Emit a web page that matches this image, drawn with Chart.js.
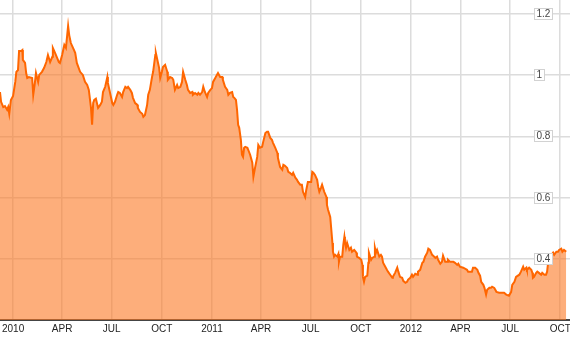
<!DOCTYPE html>
<html>
<head>
<meta charset="utf-8">
<script src="https://cdn.jsdelivr.net/npm/chart.js@4.4.0/dist/chart.umd.min.js"></script>
<style>
  html, body { margin: 0; padding: 0; background: #fff; }
  #wrap { width: 570px; height: 338px; }
</style>
</head>
<body>
<div id="wrap"><canvas id="cours"></canvas></div>
<script>
// days counted from 1 Jan 2010
const days = [
  -24, -22, -18, -15, -11, -9, -7, -4, 0, 4,
  6, 9, 11, 15, 17, 18, 22, 24, 26, 29,
  35, 37, 40, 42, 46, 48, 53, 57, 61, 64,
  68, 72, 73, 77, 81, 84, 86, 90, 94, 97,
  101, 103, 106, 110, 114, 117, 123, 128, 132, 136,
  139, 143, 145, 147, 149, 152, 156, 160, 163, 165,
  169, 173, 174, 178, 182, 184, 187, 191, 193, 196,
  200, 202, 206, 209, 211, 215, 218, 220, 224, 228,
  229, 233, 237, 239, 242, 246, 248, 251, 255, 257,
  261, 262, 266, 268, 270, 273, 275, 279, 283, 284,
  288, 292, 294, 297, 301, 303, 307, 310, 312, 316,
  319, 321, 325, 329, 330, 334, 338, 340, 343, 347,
  349, 352, 356, 358, 362, 365, 367, 371, 374, 376,
  380, 384, 385, 389, 393, 395, 398, 402, 404, 406,
  409, 411, 413, 415, 418, 420, 422, 424, 426, 430,
  431, 435, 439, 441, 444, 448, 450, 453, 457, 459,
  463, 466, 468, 472, 475, 477, 481, 485, 486, 490,
  494, 496, 499, 503, 505, 508, 512, 514, 518, 521,
  523, 527, 530, 532, 536, 538, 541, 543, 547, 549,
  551, 554, 558, 560, 562, 565, 567, 571, 575, 576,
  578, 582, 584, 586, 587, 589, 591, 595, 597, 598,
  600, 604, 606, 608, 609, 611, 613, 617, 620, 622,
  626, 630, 631, 635, 639, 641, 642, 644, 646, 650,
  652, 653, 657, 659, 663, 664, 666, 668, 672, 675,
  677, 679, 683, 686, 688, 692, 696, 697, 701, 705,
  707, 710, 714, 716, 720, 723, 725, 729, 732, 734,
  738, 742, 743, 747, 751, 753, 756, 760, 762, 765,
  769, 771, 775, 778, 780, 784, 787, 789, 793, 797,
  798, 802, 808, 811, 815, 817, 820, 826, 830, 833,
  835, 842, 844, 848, 852, 854, 857, 859, 863, 865,
  868, 870, 874, 877, 879, 883, 887, 892, 901, 905,
  910, 914, 916, 920, 923, 929, 932, 936, 938, 942,
  943, 947, 951, 953, 954, 956, 960, 962, 965, 969,
  971, 975, 978, 980, 982, 984, 988, 991, 993, 997,
  1000, 1002, 1006, 1008, 1011, 1015
];
const prices = [
  0.945, 0.913, 0.896, 0.899, 0.887, 0.896, 0.874, 0.919, 0.932, 0.978,
  1.011, 1.017, 1.079, 1.079, 1.082, 1.050, 1.040, 1.007, 0.991, 0.994,
  0.991, 0.936, 0.975, 1.007, 0.978, 1.001, 1.011, 1.024, 1.043, 1.066,
  1.043, 1.060, 1.089, 1.073, 1.056, 1.043, 1.040, 1.066, 1.099, 1.089,
  1.161, 1.131, 1.105, 1.089, 1.073, 1.040, 1.011, 1.001, 0.978, 0.968,
  0.952, 0.893, 0.838, 0.909, 0.919, 0.923, 0.893, 0.903, 0.913, 0.945,
  0.962, 0.994, 0.975, 0.942, 0.909, 0.903, 0.913, 0.936, 0.945, 0.942,
  0.929, 0.945, 0.962, 0.958, 0.962, 0.952, 0.942, 0.926, 0.909, 0.903,
  0.893, 0.880, 0.874, 0.864, 0.870, 0.903, 0.936, 0.952, 0.994, 1.011,
  1.066, 1.073, 1.040, 1.024, 0.991, 1.011, 1.027, 1.034, 1.011, 0.985,
  0.994, 0.991, 0.985, 0.952, 0.968, 0.958, 0.962, 0.978, 1.011, 0.985,
  0.968, 0.952, 0.942, 0.945, 0.936, 0.942, 0.936, 0.942, 0.936, 0.945,
  0.962, 0.945, 0.929, 0.942, 0.952, 0.958, 0.978, 0.991, 1.001, 1.007,
  0.994, 0.994, 0.985, 0.962, 0.952, 0.936, 0.942, 0.945, 0.929, 0.926,
  0.919, 0.887, 0.838, 0.828, 0.789, 0.740, 0.733, 0.763, 0.766, 0.763,
  0.763, 0.740, 0.714, 0.668, 0.697, 0.733, 0.772, 0.763, 0.766, 0.782,
  0.811, 0.815, 0.815, 0.795, 0.789, 0.779, 0.763, 0.746, 0.730, 0.700,
  0.691, 0.707, 0.704, 0.697, 0.684, 0.681, 0.674, 0.681, 0.665, 0.658,
  0.651, 0.642, 0.642, 0.619, 0.602, 0.625, 0.651, 0.651, 0.651, 0.684,
  0.681, 0.674, 0.658, 0.635, 0.619, 0.632, 0.642, 0.619, 0.602, 0.576,
  0.560, 0.537, 0.495, 0.452, 0.423, 0.407, 0.413, 0.407, 0.416, 0.390,
  0.407, 0.407, 0.446, 0.472, 0.456, 0.436, 0.452, 0.429, 0.436, 0.423,
  0.429, 0.420, 0.407, 0.403, 0.397, 0.380, 0.341, 0.325, 0.341, 0.345,
  0.387, 0.420, 0.397, 0.403, 0.407, 0.436, 0.420, 0.429, 0.407, 0.413,
  0.407, 0.387, 0.374, 0.364, 0.358, 0.348, 0.338, 0.341, 0.354, 0.371,
  0.358, 0.341, 0.338, 0.328, 0.322, 0.325, 0.332, 0.338, 0.348, 0.341,
  0.351, 0.348, 0.358, 0.364, 0.387, 0.390, 0.407, 0.420, 0.433, 0.429,
  0.413, 0.410, 0.403, 0.407, 0.397, 0.384, 0.390, 0.410, 0.390, 0.390,
  0.397, 0.390, 0.390, 0.387, 0.380, 0.384, 0.374, 0.371, 0.367, 0.364,
  0.358, 0.358, 0.371, 0.371, 0.364, 0.354, 0.345, 0.325, 0.315, 0.305,
  0.283, 0.299, 0.305, 0.305, 0.309, 0.305, 0.292, 0.289, 0.289, 0.283,
  0.279, 0.292, 0.315, 0.325, 0.341, 0.348, 0.358, 0.374, 0.364, 0.371,
  0.364, 0.371, 0.364, 0.354, 0.338, 0.341, 0.354, 0.358, 0.354, 0.348,
  0.354, 0.348, 0.348, 0.358, 0.390, 0.403, 0.413, 0.420, 0.413, 0.423,
  0.423, 0.429, 0.433, 0.423, 0.429, 0.423
];

// quarter starts and their labels
const tickDays = [0, 90, 181, 273, 365, 455, 546, 638, 730, 821, 912, 1004];
const tickLabels = ['2010', 'APR', 'JUL', 'OCT', '2011', 'APR', 'JUL', 'OCT', '2012', 'APR', 'JUL', 'OCT'];
const yTicks = [0.4, 0.6, 0.8, 1, 1.2];

Chart.defaults.font.family = '"Liberation Sans", Arial, sans-serif';

// y labels sit inside the plot, in small white boxes
const boxedLabels = {
  id: 'boxedLabels',
  afterDatasetsDraw(chart) {
    const ctx = chart.ctx;
    const y = chart.scales.y;
    const left = chart.chartArea.right - 36;
    ctx.save();
    ctx.font = '10px "Liberation Sans", Arial, sans-serif';
    ctx.textBaseline = 'middle';
    yTicks.forEach(v => {
      const py = Math.round(y.getPixelForValue(v));
      const txt = String(v);
      const w = Math.ceil(ctx.measureText(txt).width) + 5;
      ctx.fillStyle = '#fff';
      ctx.fillRect(left, py - 6, w, 12);
      ctx.strokeStyle = '#d2d2d2';
      ctx.lineWidth = 1;
      ctx.strokeRect(left + 0.5, py - 5.5, w - 1, 11);
      ctx.fillStyle = '#444';
      ctx.fillText(txt, left + 2.5, py + 0.5);
    });
    ctx.restore();
  }
};

const ctx = document.getElementById('cours').getContext('2d');
const chart = new Chart(ctx, {
  type: 'line',
  data: {
    datasets: [{
      data: days.map((d, i) => ({ x: d, y: prices[i] })),
      borderColor: '#ff6600',
      borderWidth: 2,
      backgroundColor: 'rgba(251, 120, 35, 0.6)',
      fill: 'start',
      pointRadius: 0,
      tension: 0
    }]
  },
  options: {
    responsive: true,
    maintainAspectRatio: false,
    animation: false,
    layout: { padding: 0 },
    plugins: {
      legend: { display: false },
      tooltip: { enabled: false }
    },
    scales: {
      x: {
        type: 'linear',
        min: -24,
        max: 1022,
        afterBuildTicks: axis => { axis.ticks = tickDays.map(v => ({ value: v })); },
        afterFit: axis => { axis.paddingLeft = 0; axis.paddingRight = 0; },
        ticks: {
          autoSkip: false,
          maxRotation: 0,
          padding: 3,
          color: '#222',
          font: { size: 10 },
          callback: (v, i) => tickLabels[i]
        },
        grid: { color: '#dcdcdc', lineWidth: 1.5, drawTicks: false },
        border: { color: '#444', width: 2 }
      },
      y: {
        type: 'linear',
        position: 'left',
        min: 0.2,
        max: 1.2457,
        afterBuildTicks: axis => { axis.ticks = yTicks.map(v => ({ value: v })); },
        ticks: { display: false },
        grid: { color: '#dcdcdc', lineWidth: 1.5, drawTicks: false },
        border: { display: false }
      }
    }
  },
  plugins: [boxedLabels]
});
</script>
</body>
</html>
